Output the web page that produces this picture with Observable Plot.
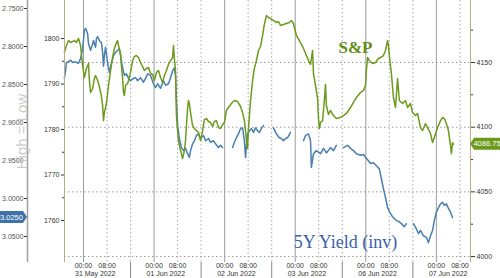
<!DOCTYPE html>
<html><head><meta charset="utf-8">
<script src="https://cdn.jsdelivr.net/npm/d3@7"></script>
<script src="https://cdn.jsdelivr.net/npm/@observablehq/plot@0.6"></script>
<style>html,body{margin:0;padding:0;background:#fff;} #chart svg{display:block;}</style>
</head><body><div id="chart"></div>
<script>
// Sessions (trading clock: 24 h per session, 00:00 of session s = 24*s hours)
const sessions = ["31 May 2022","01 Jun 2022","02 Jun 2022","03 Jun 2022","06 Jun 2022","07 Jun 2022"];
const hourLabels = ["00:00","08:00"];
const spxTicks = [4000,4050,4100,4150];
const spxMinorTicks = [4025,4075,4125,4175];
const yieldTicks = [2.75,2.80,2.85,2.90,2.95,3.00,3.05];
const leftTicks = [1760,1770,1780,1790,1800];
const leftMinorTicks = [1765,1775,1785,1795];
const spxLast = 4086.75;
const yieldLast = 3.025;

// S&P futures: [hour on trading clock, price]
const spxSeries = [[-6.5,4157.7],[-5.8,4163.1],[-5.1,4167.0],[-4.4,4165.5],[-3.7,4166.2],[-3.1,4167.0],[-2.4,4165.5],[-1.7,4168.6],[-1.0,4163.1],[-0.3,4147.7],[0.3,4138.4],[1.0,4145.4],[1.7,4149.2],[2.0,4136.1],[2.4,4126.8],[3.1,4129.9],[3.7,4137.6],[4.1,4139.9],[4.8,4136.1],[5.4,4131.4],[6.1,4123.7],[6.5,4116.8],[6.8,4105.1],[7.1,4111.3],[7.8,4118.3],[8.5,4132.2],[9.2,4143.8],[9.9,4153.9],[10.5,4160.8],[11.2,4165.5],[11.6,4167.0],[11.9,4163.1],[12.6,4157.0],[12.9,4147.7],[13.3,4137.6],[13.6,4126.8],[13.9,4124.5],[14.3,4132.2],[15.0,4133.8],[15.3,4136.1],[16.0,4142.3],[16.7,4151.5],[17.3,4154.6],[18.0,4155.4],[18.7,4153.9],[19.4,4150.0],[20.1,4146.9],[20.7,4143.8],[21.4,4145.4],[22.1,4146.1],[22.8,4141.5],[23.5,4140.7],[24.1,4136.1],[24.8,4142.3],[25.5,4143.8],[26.2,4138.4],[26.9,4134.5],[27.5,4139.9],[28.2,4143.8],[28.9,4148.5],[29.6,4151.5],[30.3,4153.9],[30.6,4163.1],[30.9,4153.1],[31.3,4143.8],[31.6,4109.0],[32.0,4097.4],[32.3,4089.7],[33.0,4082.0],[33.7,4075.8],[34.3,4082.0],[34.7,4089.7],[35.0,4101.3],[35.4,4114.4],[35.7,4120.6],[36.0,4118.3],[36.4,4111.3],[37.1,4101.3],[37.7,4099.0],[38.4,4097.4],[39.1,4095.9],[39.8,4089.7],[40.5,4097.4],[41.1,4105.9],[41.8,4106.7],[42.5,4104.4],[43.2,4103.6],[43.9,4100.5],[44.5,4104.4],[45.2,4105.1],[45.9,4099.7],[46.6,4099.0],[47.3,4102.0],[47.9,4103.6],[48.6,4112.9],[49.3,4115.2],[50.3,4118.3],[51.3,4120.6],[52.4,4119.8],[53.4,4116.0],[54.1,4111.3],[54.7,4105.1],[55.1,4097.4],[55.4,4089.7],[55.8,4083.5],[56.1,4099.0],[56.8,4120.6],[57.5,4136.1],[58.1,4145.4],[58.8,4151.5],[59.5,4159.3],[60.2,4162.4],[60.9,4170.9],[61.5,4179.4],[62.2,4186.3],[62.9,4184.8],[63.6,4184.0],[64.6,4182.5],[65.6,4180.9],[66.3,4181.7],[67.0,4178.6],[68.0,4179.4],[69.0,4180.2],[70.0,4180.9],[70.7,4182.5],[71.4,4180.2],[72.4,4170.9],[73.4,4167.0],[74.5,4162.4],[75.1,4159.3],[75.8,4155.4],[76.5,4151.5],[77.2,4148.5],[77.9,4159.3],[78.2,4141.5],[78.9,4132.2],[79.6,4122.2],[79.9,4106.7],[80.2,4099.0],[80.6,4103.6],[81.3,4105.1],[81.9,4120.6],[82.3,4133.0],[82.6,4116.8],[83.3,4109.8],[84.0,4112.9],[85.0,4109.0],[86.0,4106.7],[87.4,4107.5],[88.4,4109.0],[89.4,4110.6],[90.8,4115.2],[91.8,4119.1],[92.8,4122.9],[94.2,4126.8],[95.2,4128.4],[95.9,4132.2],[96.2,4143.8],[96.6,4153.9],[97.2,4151.5],[98.3,4149.2],[99.3,4150.0],[100.3,4153.1],[101.0,4153.9],[102.0,4155.4],[102.7,4159.3],[103.4,4167.0],[103.7,4163.1],[104.0,4155.4],[104.7,4141.5],[105.4,4122.9],[106.1,4115.2],[106.8,4137.6],[107.4,4120.6],[108.5,4118.3],[109.5,4120.6],[110.2,4115.2],[111.2,4118.3],[111.9,4111.3],[112.9,4109.0],[113.6,4110.6],[114.6,4099.7],[115.3,4097.4],[116.3,4102.8],[117.0,4099.7],[118.0,4095.1],[118.7,4088.1],[119.3,4092.0],[120.4,4099.7],[121.4,4105.1],[122.1,4107.5],[122.7,4106.7],[123.4,4102.8],[124.1,4097.4],[124.8,4085.8],[125.1,4079.6],[125.5,4088.1],[125.8,4086.75]];

// 5Y Treasury yield: [hour on trading clock, yield %], null = no quotes
const yieldSeries = [[-6.5,2.842],[-6.1,2.832],[-5.8,2.821],[-5.1,2.820],[-4.4,2.818],[-3.7,2.821],[-3.1,2.820],[-2.4,2.821],[-1.7,2.822],[-1.0,2.816],[-0.3,2.803],[0.3,2.779],[0.7,2.776],[1.4,2.783],[1.7,2.796],[2.4,2.805],[3.1,2.797],[3.4,2.792],[4.1,2.801],[4.4,2.790],[4.8,2.787],[5.4,2.792],[6.1,2.795],[6.5,2.808],[6.8,2.826],[7.1,2.812],[7.5,2.801],[8.2,2.822],[8.8,2.834],[9.5,2.822],[10.2,2.812],[10.9,2.808],[11.6,2.805],[12.2,2.803],[12.6,2.812],[13.3,2.828],[13.9,2.838],[14.6,2.836],[15.3,2.842],[16.0,2.845],[17.0,2.842],[17.7,2.841],[18.4,2.845],[19.4,2.841],[20.4,2.847],[21.1,2.842],[21.8,2.836],[22.8,2.838],[23.8,2.849],[24.5,2.854],[25.2,2.849],[26.2,2.855],[27.2,2.845],[27.9,2.851],[28.9,2.849],[29.6,2.841],[30.3,2.832],[30.9,2.828],[31.3,2.838],[31.6,2.871],[32.0,2.904],[32.6,2.921],[33.3,2.933],[34.0,2.937],[34.7,2.934],[35.4,2.941],[36.0,2.946],[36.4,2.937],[37.1,2.928],[37.7,2.924],[38.4,2.917],[39.1,2.915],[39.8,2.921],[40.8,2.917],[41.5,2.924],[42.5,2.921],[43.2,2.926],[44.2,2.924],[44.9,2.928],[45.9,2.933],[46.6,2.930],[47.3,2.933],[49,null],[50.7,2.933],[51.3,2.926],[52.0,2.920],[52.7,2.915],[53.4,2.908],[54.1,2.907],[54.7,2.924],[55.1,2.946],[55.4,2.930],[55.8,2.915],[56.4,2.911],[57.1,2.908],[57.8,2.913],[58.5,2.907],[59.2,2.911],[59.8,2.913],[60.5,2.908],[61.2,2.904],[63,null],[64.6,2.907],[65.6,2.915],[66.6,2.920],[67.3,2.921],[68.0,2.924],[68.7,2.921],[69.4,2.920],[70.4,2.913],[72,null],[74.8,2.924],[75.5,2.917],[76.5,2.915],[77.2,2.924],[77.5,2.959],[78.2,2.941],[79.2,2.937],[80.6,2.941],[81.6,2.934],[82.6,2.940],[84.0,2.933],[85.0,2.937],[86.0,2.930],[87,null],[88.4,2.933],[89.8,2.930],[90.8,2.934],[91.8,2.937],[92.8,2.941],[94.2,2.943],[95.2,2.942],[96.2,2.947],[97.6,2.954],[98.6,2.953],[99.6,2.957],[100.6,2.961],[101.3,2.974],[102.0,2.987],[102.7,2.999],[103.4,3.012],[104.0,3.017],[105.1,3.024],[106.1,3.028],[107.1,3.030],[108.1,3.033],[109.1,3.037],[109.8,3.033],[111,null],[112.2,3.033],[113.2,3.040],[113.9,3.046],[114.6,3.042],[115.6,3.049],[116.6,3.051],[117.3,3.058],[118.0,3.049],[118.7,3.042],[119.3,3.029],[120.0,3.018],[120.7,3.012],[121.4,3.007],[122.1,3.005],[122.7,3.009],[123.4,3.007],[124.1,3.013],[124.8,3.018],[125.5,3.025]];

// ---- layout ----
const W = 500, H = 278;
const xDomain = [-6.46, 131.6];
const yDomain = [3995.4, 4197.94];
// secondary axes expressed in S&P units (inverted yield axis)
const yieldToSpx = d3.scaleLinear().domain([2.75, 3.05]).range([4191.76, 4015.47]);
const leftToSpx = d3.scaleLinear().domain([1760, 1800]).range([4027.84, 4168.56]);

const inDom = t => t >= xDomain[0] && t <= xDomain[1];
const midnight = sessions.map((s, i) => 24 * i);
const eightAm = sessions.map((s, i) => 24 * i + 8);
const boundaries = sessions.map((s, i) => 24 * i - 8).filter(inDom);
const hourTicks = [...midnight, ...eightAm].sort((a, b) => a - b);
const dateTicks = sessions.map((s, i) => 24 * i + 4);

const spxData = spxSeries.map(([t, v]) => ({t, v}));
const yieldData = yieldSeries.map(([t, v]) => ({t, v: v == null ? NaN : yieldToSpx(v)}));

const GREEN = "#6c9a1c", BLUE = "#4a7fb0", AXIS = "#b8ae86";
const fontAxis = "Liberation Sans, Arial, sans-serif";
const serif = "Liberation Serif, Times New Roman, serif";

const chart = Plot.plot({
  width: W, height: H,
  marginTop: 0, marginBottom: 16, marginLeft: 64, marginRight: 30,
  style: {fontFamily: fontAxis, fontSize: "7px", color: "#333", background: "#fff", overflow: "visible"},
  x: {domain: xDomain, axis: null},
  y: {domain: yDomain, axis: null},
  marks: [
    Plot.gridY(spxTicks, {stroke: "#9a9a9a", strokeOpacity: 1, strokeDasharray: "1.5,2.5"}),
    Plot.gridX([...eightAm.filter(inDom), ...boundaries], {stroke: "#a8a8a8", strokeOpacity: 1, strokeDasharray: "1.5,2.5"}),
    Plot.gridX(midnight, {stroke: "#9c9c9c", strokeOpacity: 1, strokeWidth: 1}),
    Plot.line(yieldData, {x: "t", y: "v", stroke: BLUE, strokeWidth: 1.5}),
    Plot.line(spxData, {x: "t", y: "v", stroke: GREEN, strokeWidth: 1.5}),
    // axis lines
    Plot.ruleX([xDomain[0]], {stroke: AXIS, strokeWidth: 1}),
    Plot.ruleX([xDomain[1]], {stroke: AXIS, strokeWidth: 1}),
    Plot.ruleX([xDomain[0]], {dx: -37, stroke: "#a0a0a0", strokeWidth: 1.5}),
    // right S&P axis
    Plot.axisY(spxTicks, {anchor: "right", label: null, tickSize: 4, tickPadding: 2, tickFormat: d => String(d), fill: "#333"}),
    Plot.axisY(spxMinorTicks, {anchor: "right", label: null, tickSize: 2, tickFormat: () => ""}),
    // inner left axis
    Plot.axisY(leftTicks.map(leftToSpx), {anchor: "left", label: null, tickSize: 3, tickPadding: 2, tickFormat: d => String(Math.round(leftToSpx.invert(d))), fill: "#333"}),
    Plot.axisY(leftMinorTicks.map(leftToSpx), {anchor: "left", label: null, tickSize: 2, tickFormat: () => ""}),
    // outer left (inverted yield) axis
    Plot.axisY(yieldTicks.map(yieldToSpx), {anchor: "left", label: null, dx: -37, tickSize: 3, tickPadding: 1, tickFormat: d => yieldToSpx.invert(d).toFixed(4), fill: "#555"}),
    // x axis
    Plot.axisX(hourTicks, {anchor: "bottom", label: null, tickSize: 0, tickPadding: 1, tickFormat: d => hourLabels[(d % 24) === 0 ? 0 : 1]}),
    Plot.axisX(dateTicks, {anchor: "bottom", label: null, tickSize: 0, tickPadding: 9, tickFormat: d => sessions[Math.round((d - 4) / 24)]}),
    Plot.axisX(boundaries, {anchor: "bottom", label: null, tickSize: 16, stroke: "#888", tickFormat: () => ""}),
    // annotations
    Plot.text(["High = Low"], {frameAnchor: "left", textAnchor: "middle", dx: -42, rotate: -90, fontSize: 15, fill: "#cccccc", fontFamily: fontAxis}),
    Plot.text(["S&P"], {frameAnchor: "top-left", textAnchor: "middle", dx: 291, dy: 40, fontSize: 17, fontWeight: "bold", fill: "#5f8c16", fontFamily: serif}),
    Plot.text(["5Y Yield (inv)"], {frameAnchor: "top-left", textAnchor: "middle", dx: 281, dy: 235, fontSize: 18, fill: "#3c5fae", fontFamily: serif})
  ]
});
document.getElementById("chart").appendChild(chart);

// last-value flags, placed with the chart's own scales
const sx = chart.scale("x"), sy = chart.scale("y");
const svg = d3.select(chart);
const xr = sx.apply(xDomain[1]);
const ys = sy.apply(spxLast);
const g = svg.append("g");
g.append("path")
  .attr("d", `M${xr},${ys} L${xr + 4},${ys - 6} H${W} V${ys + 6} H${xr + 4} Z`)
  .attr("fill", GREEN);
g.append("text").attr("x", xr + 17).attr("y", ys).attr("dy", "0.35em")
  .attr("text-anchor", "middle").attr("fill", "#fff").attr("font-size", 7.5)
  .attr("font-family", fontAxis).text(spxLast.toFixed(2));
const xl = sx.apply(xDomain[0]) - 37;
const yy = sy.apply(yieldToSpx(yieldLast));
g.append("path")
  .attr("d", `M0,${yy - 6} H${xl - 4} L${xl},${yy} L${xl - 4},${yy + 6} H0 Z`)
  .attr("fill", "#3f72a8");
g.append("text").attr("x", (xl - 4) / 2).attr("y", yy).attr("dy", "0.35em")
  .attr("text-anchor", "middle").attr("fill", "#fff").attr("font-size", 7.5)
  .attr("font-family", fontAxis).text(yieldLast.toFixed(4));
</script>
</body></html>
